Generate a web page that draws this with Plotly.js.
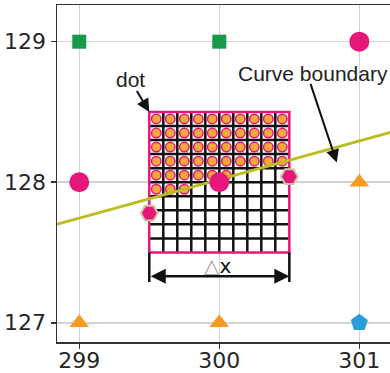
<!DOCTYPE html>
<html>
<head>
<meta charset="utf-8">
<script src="https://cdn.plot.ly/plotly-3.0.1.min.js"></script>
<style>html,body{margin:0;padding:0;background:#fff;}#chart{width:390px;height:373px;}</style>
</head>
<body>
<div id="chart"></div>
<script>
// ---- data ----
const xTicks = [299, 300, 301];
const yTicks = [127, 128, 129];
const squareX = [299, 300];
const squareY = [129, 129];
const circleX = [301, 299, 300];
const circleY = [129, 128, 128];
const triangleX = [299, 300, 301];
const triangleY = [127, 127, 128];
const pentagonX = [301];
const pentagonY = [127];
const hexX = [299.5, 300.5];
const hexY = [127.78, 128.04];
const curveX = [298.8, 301.3];
const curveY = [127.69, 128.376];
const cellX = [299.5, 299.6, 299.7, 299.8, 299.9, 300.0, 300.1, 300.2, 300.3, 300.4, 300.5];
const cellY = [127.5, 127.6, 127.7, 127.8, 127.9, 128.0, 128.1, 128.2, 128.3, 128.4, 128.5];
const dotsPerRow = [10, 10, 10, 10, 6, 3, 0, 0, 0, 0]; // top row first
const deltaY = 127.331;
const deltaTickY = [127.5, 127.29];

// ---- build ----
const MAG = '#e5177b';
const gx = [], gy = [];
for (let i = 1; i < cellX.length - 1; i++) { gx.push(cellX[i], cellX[i], null); gy.push(cellY[0], cellY[cellY.length-1], null); }
for (let i = 1; i < cellY.length - 1; i++) { gx.push(cellX[0], cellX[cellX.length-1], null); gy.push(cellY[i], cellY[i], null); }
const x0 = cellX[0], x1 = cellX[cellX.length-1], y0 = cellY[0], y1 = cellY[cellY.length-1];
const dx = [], dy = [];
const nR = cellY.length - 1;
dotsPerRow.forEach((n, r) => {
  const top = cellY[nR - r], bot = cellY[nR - r - 1];
  for (let j = 0; j < n; j++) { dx.push((cellX[j] + cellX[j+1]) / 2); dy.push((top + bot) / 2); }
});

const traces = [
  {x: gx, y: gy, mode: 'lines', line: {color: '#111', width: 2.5}, hoverinfo: 'skip'},
  {x: [x0, x1, x1, x0, x0], y: [y0, y0, y1, y1, y0], mode: 'lines', line: {color: MAG, width: 2.5}},
  {x: [x0, x0, null, x1, x1], y: [deltaTickY[0], deltaTickY[1], null, deltaTickY[0], deltaTickY[1]], mode: 'lines', line: {color: '#111', width: 2.5}},
  {x: dx, y: dy, mode: 'markers', marker: {symbol: 'circle', size: 9.5, color: '#f8a838', line: {color: MAG, width: 1.5}}},
  {x: curveX, y: curveY, mode: 'lines', line: {color: '#bcbd22', width: 3}},
  {x: squareX, y: squareY, mode: 'markers', marker: {symbol: 'square', size: 14, color: '#17994a'}},
  {x: circleX, y: circleY, mode: 'markers', marker: {symbol: 'circle', size: 20, color: MAG}},
  {x: triangleX, y: triangleY, mode: 'markers', marker: {symbol: 'triangle-up', size: 17, color: '#f49b21'}},
  {x: pentagonX, y: pentagonY, mode: 'markers', marker: {symbol: 'pentagon', size: 18, color: '#2a9dd8'}},
  {x: hexX, y: hexY, mode: 'markers', marker: {symbol: 'hexagon2', size: 17, color: MAG, line: {color: '#cfc6a8', width: 2}}}
];

const tickFont = {family: 'DejaVu Sans', size: 22, color: '#262626'};
const lblFont = {family: 'Liberation Sans, Arial', size: 21, color: '#222'};
const layout = {
  width: 390, height: 373,
  margin: {l: 57, r: 0, t: 5, b: 31},
  showlegend: false,
  paper_bgcolor: '#fff', plot_bgcolor: '#fff',
  xaxis: {range: [298.841, 301.219], tickvals: xTicks, ticktext: xTicks.map(String), showgrid: true, gridcolor: '#d2d2d2', gridwidth: 1.5,
    zeroline: false, showline: true, mirror: true, linecolor: '#333', linewidth: 1.5, ticks: 'outside', ticklen: 5, tickwidth: 1.5, tickcolor: '#333',
    tickfont: tickFont, automargin: false, ticklabelstandoff: -7},
  yaxis: {range: [126.863, 129.261], tickvals: yTicks, ticktext: yTicks.map(String), showgrid: true, gridcolor: '#d2d2d2', gridwidth: 1.5,
    zeroline: false, showline: true, mirror: false, linecolor: '#333', linewidth: 1.5, ticks: 'outside', ticklen: 5, tickwidth: 1.5, tickcolor: '#333',
    tickfont: tickFont, automargin: false},
  annotations: [
    {x: 299.369, y: 128.731, xref: 'x', yref: 'y', text: 'dot', showarrow: false, font: lblFont},
    {x: 300.666, y: 128.774, xref: 'x', yref: 'y', text: 'Curve boundary', showarrow: false, font: lblFont},
    {x: 299.99, y: 127.402, xref: 'x', yref: 'y', text: '<span style="color:#9a9a9a">△</span>x', showarrow: false, font: {family: 'DejaVu Sans', size: 20, color: '#111'}},
    {x: 299.5, y: 128.5, ax: 299.405, ay: 128.66, xref: 'x', yref: 'y', axref: 'x', ayref: 'y', text: '', showarrow: true, arrowhead: 2, arrowsize: 1.3, arrowwidth: 2, arrowcolor: '#111', standoff: 0},
    {x: 300.839, y: 128.14, ax: 300.648, ay: 128.71, xref: 'x', yref: 'y', axref: 'x', ayref: 'y', text: '', showarrow: true, arrowhead: 2, arrowsize: 1.3, arrowwidth: 2, arrowcolor: '#111', standoff: 0},
    {x: x1, y: deltaY, ax: x0, ay: deltaY, xref: 'x', yref: 'y', axref: 'x', ayref: 'y', text: '', showarrow: true, arrowside: 'end+start', arrowhead: 2, startarrowhead: 2, arrowsize: 1.2, startarrowsize: 1.2, arrowwidth: 2.5, arrowcolor: '#111', standoff: 0, startstandoff: 0}
  ]
};
Plotly.newPlot('chart', traces, layout, {displayModeBar: false, staticPlot: true});
</script>
</body>
</html>
